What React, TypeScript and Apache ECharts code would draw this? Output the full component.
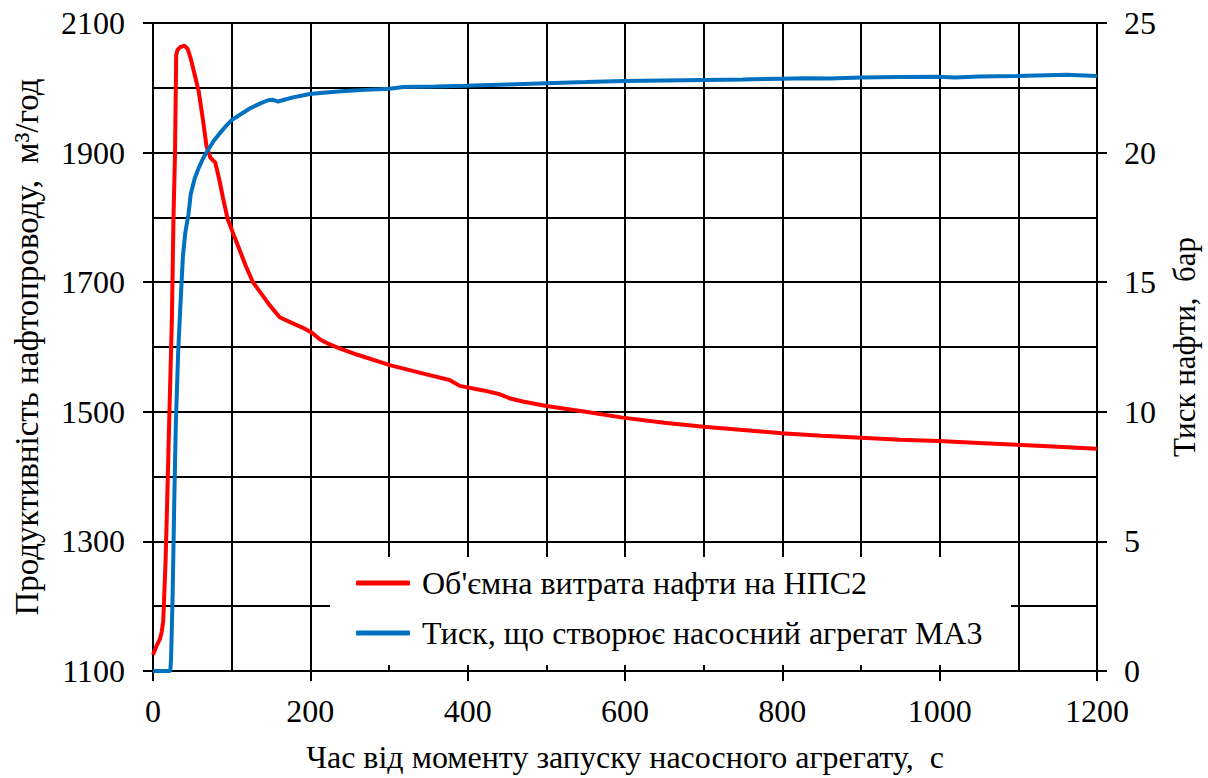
import React, { useEffect, useRef } from "react";
import * as echarts from "echarts";

// Time (s) and volumetric flow rate (m3/h) at pump station NPS2
const flowTime = [0, 5, 9, 11, 13, 16, 18, 20, 22, 24, 26, 28, 29.5, 31, 35, 40, 44, 48, 53, 58, 63, 68, 73, 79, 84, 89, 95, 102, 110, 118, 127, 136, 148, 161, 175, 190, 202, 212, 221, 237, 260, 301, 340, 377, 390, 420, 441, 453, 470, 500, 550, 597, 650, 700, 750, 799, 850, 900, 950, 999, 1050, 1098, 1150, 1200];
const flowValues = [1125, 1140, 1150, 1160, 1177, 1270, 1360, 1458, 1550, 1643, 1797, 1900, 2050, 2058, 2063, 2065, 2060, 2045, 2020, 1995, 1955, 1910, 1892, 1885, 1860, 1830, 1797, 1775, 1750, 1725, 1700, 1685, 1665, 1646, 1638, 1630, 1622, 1612, 1606, 1598, 1588, 1572, 1560, 1549, 1540, 1533, 1527, 1521, 1516, 1509, 1500, 1491, 1483, 1477, 1472, 1467, 1463, 1460, 1457, 1455, 1452, 1449, 1446, 1443];

// Time (s) and pressure (bar) created by pump unit MA3
const pressureTime = [0, 22, 23, 25, 27, 29, 32, 35, 38, 41, 45, 48, 53, 58, 64, 70, 77, 85, 92, 100, 110, 123, 135, 146, 152, 159, 168, 178, 190, 199, 220, 244, 270, 301, 318, 360, 398, 450, 500, 550, 599, 650, 700, 750, 799, 830, 860, 900, 950, 999, 1020, 1050, 1098, 1161, 1200];
const pressureValues = [0, 0, 0.5, 3, 6.5, 9.5, 12.3, 14.2, 16, 16.9, 17.6, 18.4, 19, 19.4, 19.8, 20.1, 20.45, 20.75, 21, 21.25, 21.45, 21.7, 21.88, 22.02, 22.04, 21.97, 22.05, 22.13, 22.2, 22.26, 22.32, 22.38, 22.42, 22.46, 22.53, 22.55, 22.58, 22.63, 22.68, 22.72, 22.76, 22.78, 22.8, 22.82, 22.85, 22.87, 22.86, 22.9, 22.92, 22.93, 22.9, 22.94, 22.96, 23.0, 22.96];

const seriesNames = [
  "Об'ємна витрата нафти на НПС2",
  "Тиск, що створює насосний агрегат МА3",
];
const xAxisName = "Час від моменту запуску насосного агрегату,  с";
const leftAxisName = "Продуктивність нафтопроводу,  м³/год";
const rightAxisName = "Тиск нафти,  бар";

const FONT = "serif";

export default function App() {
  const ref = useRef<HTMLDivElement>(null);
  useEffect(() => {
    const chart = echarts.init(ref.current!, null, { renderer: "svg" });
    const lineBlack = { color: "#000", width: 2 };
    const gridLine = { show: true, lineStyle: { color: "#000", width: 2 } };
    const plain = (v: number) => String(v);
    const tickLabel = { fontFamily: FONT, fontSize: 32, color: "#000" };
    chart.setOption({
      animation: false,
      backgroundColor: "#fff",
      textStyle: { fontFamily: FONT },
      grid: { left: 153, right: 110, top: 23, bottom: 105 },
      graphic: [
        {
          type: "rect",
          z: 3,
          shape: { x: 330, y: 557, width: 681, height: 108 },
          style: { fill: "#fff" },
        },
      ],
      legend: {
        z: 10,
        orient: "vertical",
        left: 330,
        top: 557,
        padding: [10, 20, 10, 26],
        itemWidth: 54,
        itemHeight: 5,
        itemGap: 18,
        icon: "roundRect",
        textStyle: { fontFamily: FONT, fontSize: 32, color: "#000", padding: [0, 0, 0, 7] },
        data: seriesNames,
      },
      xAxis: {
        type: "value",
        min: 0,
        max: 1200,
        interval: 200,
        name: xAxisName,
        nameLocation: "middle",
        nameGap: 70,
        nameTextStyle: { fontFamily: FONT, fontSize: 32, color: "#000" },
        axisLine: { show: true, onZero: false, lineStyle: lineBlack },
        axisTick: { show: true, inside: false, length: 10, lineStyle: lineBlack },
        axisLabel: { ...tickLabel, margin: 24, formatter: plain },
        splitLine: gridLine,
        minorTick: { show: false, splitNumber: 2 },
        minorSplitLine: gridLine,
      },
      yAxis: [
        {
          type: "value",
          min: 1100,
          max: 2100,
          interval: 200,
          position: "left",
          name: leftAxisName,
          nameLocation: "middle",
          nameRotate: 90,
          nameGap: 110,
          nameTextStyle: { fontFamily: FONT, fontSize: 33, color: "#000" },
          axisLine: { show: true, onZero: false, lineStyle: lineBlack },
          axisTick: { show: true, inside: false, length: 10, lineStyle: lineBlack },
          axisLabel: { ...tickLabel, margin: 28, formatter: plain },
          splitLine: gridLine,
          minorTick: { show: false, splitNumber: 2 },
          minorSplitLine: gridLine,
        },
        {
          type: "value",
          min: 0,
          max: 25,
          interval: 5,
          position: "right",
          name: rightAxisName,
          nameLocation: "middle",
          nameRotate: 90,
          nameGap: 72,
          nameTextStyle: { fontFamily: FONT, fontSize: 31, color: "#000" },
          axisLine: { show: true, onZero: false, lineStyle: lineBlack },
          axisTick: { show: true, inside: false, length: 10, lineStyle: lineBlack },
          axisLabel: { ...tickLabel, margin: 27, formatter: plain },
          splitLine: { show: false },
        },
      ],
      series: [
        {
          name: seriesNames[0],
          type: "line",
          yAxisIndex: 0,
          data: flowTime.map((t, i) => [t, flowValues[i]]),
          showSymbol: false,
          symbol: "none",
          color: "#ff0000",
          lineStyle: { color: "#ff0000", width: 4 },
          z: 5,
        },
        {
          name: seriesNames[1],
          type: "line",
          yAxisIndex: 1,
          data: pressureTime.map((t, i) => [t, pressureValues[i]]),
          showSymbol: false,
          symbol: "none",
          color: "#0070c0",
          lineStyle: { color: "#0070c0", width: 4 },
          z: 6,
        },
      ],
    });
    return () => chart.dispose();
  }, []);
  return (
    <div
      ref={ref}
      style={{ position: "fixed", left: 0, top: 0, width: 1208, height: 778 }}
    />
  );
}
